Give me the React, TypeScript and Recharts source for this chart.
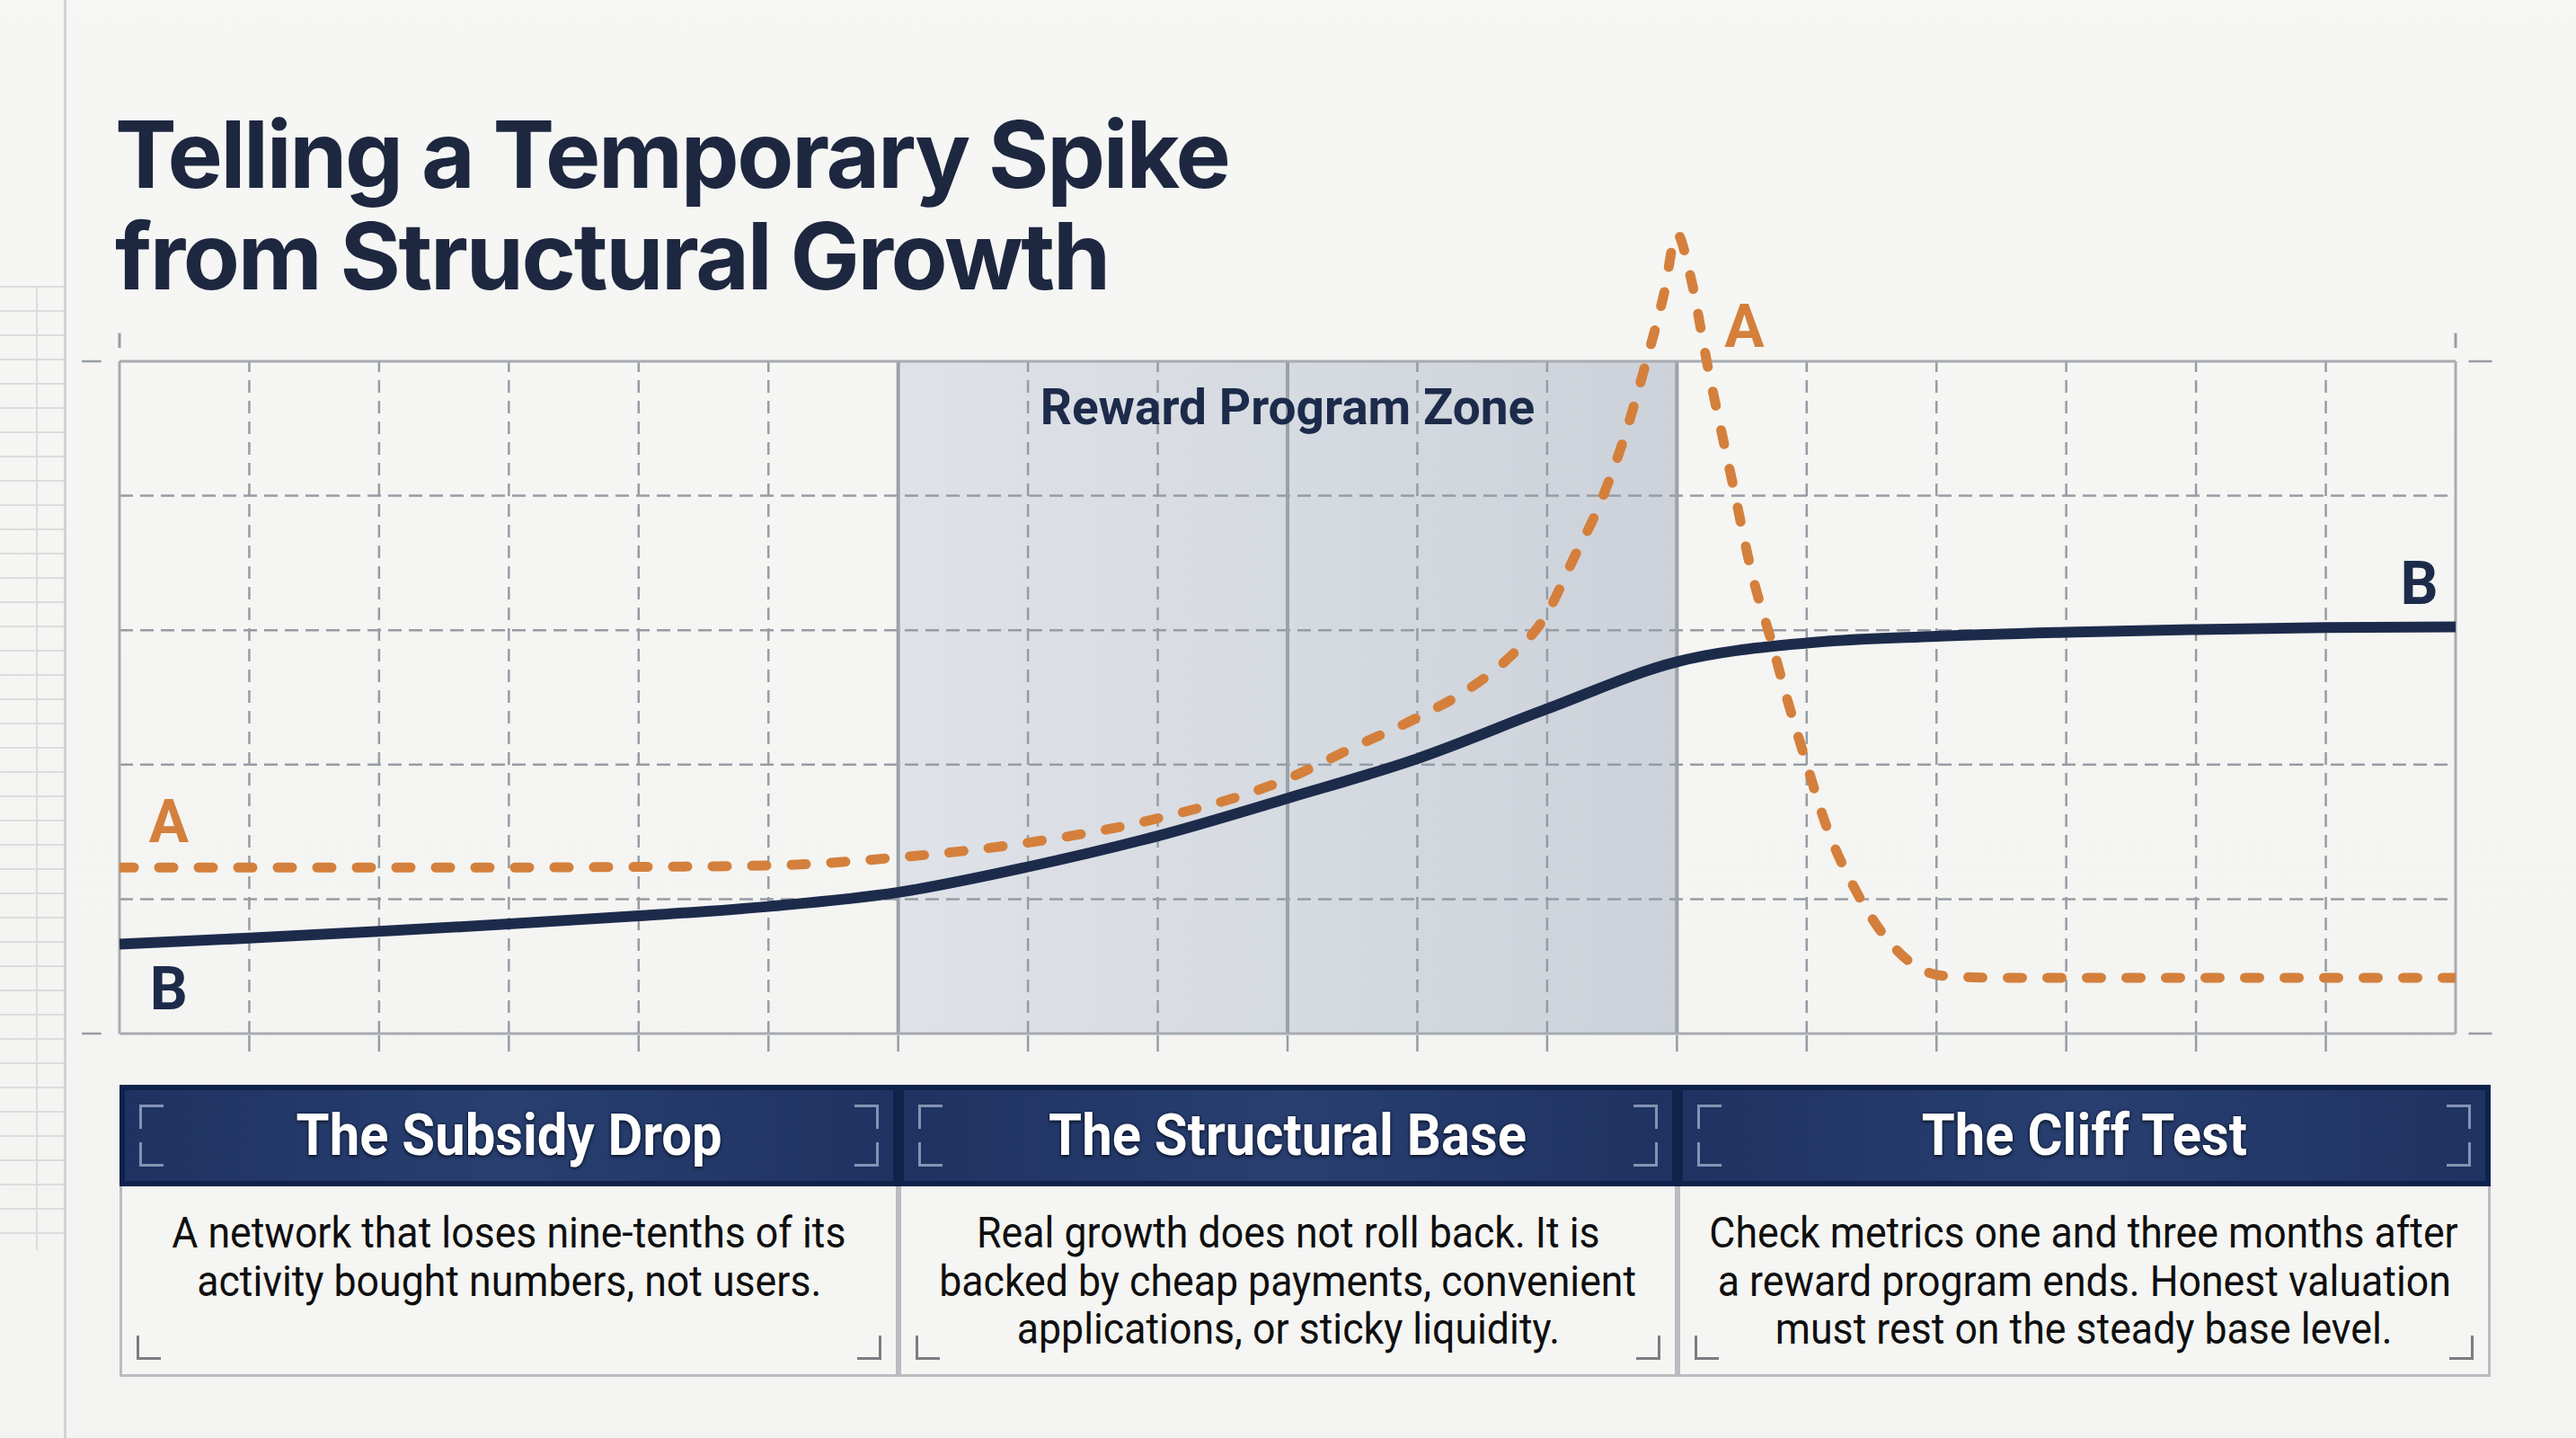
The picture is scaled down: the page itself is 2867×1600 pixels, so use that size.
import { LineChart, Line, XAxis, YAxis, ReferenceArea, ReferenceLine, ReferenceDot } from 'recharts';

// ── data ──
const xTicks = [1, 2, 3, 4, 5, 6, 7, 8, 9, 10, 11, 12, 13, 14, 15, 16, 17];
const gridLevels = [20, 40, 60, 80];
const zoneLines = [6, 9, 12];

// A: reward-driven spike (orange, dashed)
const spikeX = [0, 1, 2, 3, 4, 5, 6, 7, 8, 9, 9.5, 10, 10.4, 10.7, 11, 11.2, 11.4, 11.6, 11.75, 11.9, 12, 12.1, 12.24, 12.42, 12.59, 12.72, 12.84, 13, 13.14, 13.4, 13.68, 14.05, 14.5, 15, 16, 17, 18];
const spikeY = [24.7, 24.7, 24.7, 24.7, 24.8, 25, 26.2, 28.4, 32, 37.9, 42.5, 47, 51.3, 55.8, 62.5, 70.5, 78.5, 89, 99, 110, 119, 113, 99, 82.7, 67.5, 58.9, 50.4, 40.1, 31.5, 20.5, 12.7, 8.6, 8.3, 8.3, 8.3, 8.3, 8.3];

// B: structural base (navy, solid)
const baseX = [0, 1, 2, 3, 4, 5, 6, 7, 8, 9, 10, 11, 12, 13, 14, 15, 16, 17, 18];
const baseY = [13.3, 14.2, 15.2, 16.3, 17.5, 18.9, 21, 24.8, 29.4, 35, 40.9, 48.3, 55.3, 58.1, 59.1, 59.7, 60.1, 60.4, 60.5];

const zoneLabel = 'Reward Program Zone';
const panelTitles = ['The Subsidy Drop', 'The Structural Base', 'The Cliff Test'];
const panelLines = [
  ['A network that loses nine-tenths of its', 'activity bought numbers, not users.'],
  ['Real growth does not roll back. It is', 'backed by cheap payments, convenient', 'applications, or sticky liquidity.'],
  ['Check metrics one and three months after', 'a reward program ends. Honest valuation', 'must rest on the steady base level.'],
];

const spikeData = spikeX.map((x, i) => ({ x, a: spikeY[i] }));
const baseData = baseX.map((x, i) => ({ x, b: baseY[i] }));

const NAVY = '#1d2b4b';
const ORANGE = '#d4803c';
const GRID = '#979ca4';
const FRAME = '#a7abb1';

const panelLeft = [133, 1000, 1867];
const panelWidth = [867, 867, 905];

function Bracket({ pos, color }: { pos: string; color: string }) {
  const s: React.CSSProperties = { position: 'absolute', width: 24, height: 24, borderColor: color, borderStyle: 'solid', borderWidth: 0 };
  if (pos.includes('t')) { s.top = 16; s.borderTopWidth = 3; }
  if (pos.includes('b')) { s.bottom = 16; s.borderBottomWidth = 3; }
  if (pos.includes('l')) { s.left = 16; s.borderLeftWidth = 3; }
  if (pos.includes('r')) { s.right = 16; s.borderRightWidth = 3; }
  return <div style={s} />;
}

function Panel({ i }: { i: number }) {
  return (
    <>
      <div style={{ position: 'absolute', left: panelLeft[i], top: 1207, width: panelWidth[i], height: 113, boxSizing: 'border-box', background: '#10224a', padding: 6 }}>
        <div style={{ position: 'relative', width: '100%', height: '100%', background: 'linear-gradient(90deg, #1f3362 0%, #283f70 50%, #1f3362 100%)' }}>
          <Bracket pos="tl" color="#8393b3" />
          <Bracket pos="bl" color="#8393b3" />
          <Bracket pos="tr" color="#8393b3" />
          <Bracket pos="br" color="#8393b3" />
        </div>
        <div style={{ position: 'absolute', left: 0, top: 0, width: '100%', height: 113, lineHeight: '113px', textAlign: 'center', color: '#ffffff', fontFamily: 'Roboto, sans-serif', fontWeight: 700, fontSize: 65, textShadow: '0 0 3px rgba(5,15,40,0.9), 0 2px 4px rgba(0,0,0,0.55)' }}>
          <span style={{ display: 'inline-block', transform: 'scaleX(0.92)' }}>{panelTitles[i]}</span>
        </div>
      </div>
      <div style={{ position: 'absolute', left: panelLeft[i], top: 1320, width: panelWidth[i], height: 212, boxSizing: 'border-box', background: '#f5f5f3', border: '3px solid #b9bcc1', borderTop: 'none', paddingTop: 25 }}>
        <Bracket pos="bl" color="#7a7d82" />
        <Bracket pos="br" color="#7a7d82" />
        {panelLines[i].map((t) => (
          <div key={t} style={{ textAlign: 'center', fontFamily: 'Roboto, sans-serif', fontSize: 48, lineHeight: '53.5px', color: '#0f0f0f', whiteSpace: 'nowrap' }}>
            <span style={{ display: 'inline-block', transform: 'scaleX(0.93)' }}>{t}</span>
          </div>
        ))}
      </div>
    </>
  );
}

export default function App() {
  return (
    <div style={{ position: 'absolute', left: 0, top: 0, width: 2867, height: 1600, overflow: 'hidden', background: 'linear-gradient(180deg, #f6f6f4 0%, #f3f3f1 100%)' }}>
      {/* faint sheet grid on the far left */}
      <div style={{ position: 'absolute', left: 0, top: 318, width: 72, height: 1073, backgroundImage: 'repeating-linear-gradient(180deg, #dcdcdc 0px, #dcdcdc 2px, transparent 2px, transparent 27px)' }} />
      <div style={{ position: 'absolute', left: 40, top: 318, width: 2, height: 1073, background: '#dcdcdc' }} />
      <div style={{ position: 'absolute', left: 71, top: 0, width: 3, height: 1600, background: '#d2d2d2' }} />

      <div style={{ position: 'absolute', left: 128, top: 116, fontFamily: 'Inter, Roboto, sans-serif', fontWeight: 700, fontSize: 103, lineHeight: '112.7px', letterSpacing: -2.3, color: '#1e2740', whiteSpace: 'nowrap' }}>
        <div>Telling a Temporary Spike</div>
        <div>from Structural Growth</div>
      </div>

      <div style={{ position: 'absolute', left: 0, top: 0 }}>
        <LineChart width={2867} height={1250} margin={{ top: 215, right: 134, bottom: 70, left: 133 }}>
          <defs>
            <linearGradient id="zoneFill" x1="0" y1="0" x2="1" y2="0">
              <stop offset="0%" stopColor="#dfe2e8" />
              <stop offset="100%" stopColor="#cdd2da" />
            </linearGradient>
          </defs>
          <XAxis
            dataKey="x"
            type="number"
            domain={[0, 18]}
            ticks={xTicks}
            interval={0}
            allowDataOverflow
            axisLine={false}
            tickSize={28}
            tickLine={{ stroke: GRID, strokeWidth: 2.5, strokeDasharray: '0 8 18 100' }}
            tick={() => <g />}
            height={30}
          />
          <YAxis hide type="number" domain={[0, 125]} allowDataOverflow />

          <ReferenceArea
            x1={6}
            x2={12}
            y1={0}
            y2={100}
            fill="url(#zoneFill)"
            fillOpacity={1}
            stroke="none"
            zIndex={-200}
            label={{ value: zoneLabel, position: 'insideTop', offset: 31, fill: NAVY, fontSize: 55, fontWeight: 700, fontFamily: 'Roboto, sans-serif' }}
          />

          {gridLevels.map((v) => (
            <ReferenceLine key={`h${v}`} y={v} stroke={GRID} strokeWidth={2.5} strokeDasharray="15 8" zIndex={-100} />
          ))}
          {xTicks.filter((x) => !zoneLines.includes(x)).map((x) => (
            <ReferenceLine key={`v${x}`} segment={[{ x, y: 0 }, { x, y: 100 }]} stroke={GRID} strokeWidth={2.5} strokeDasharray="14 9" zIndex={-100} />
          ))}
          {zoneLines.map((x) => (
            <ReferenceLine key={`z${x}`} segment={[{ x, y: 0 }, { x, y: 100 }]} stroke="#9ca1a9" strokeWidth={4} zIndex={-100} />
          ))}

          {/* frame */}
          <ReferenceLine y={0} stroke={FRAME} strokeWidth={3} zIndex={-100} />
          <ReferenceLine y={100} stroke={FRAME} strokeWidth={3} zIndex={-100} />
          <ReferenceLine segment={[{ x: 0, y: 0 }, { x: 0, y: 100 }]} stroke={FRAME} strokeWidth={3} zIndex={-100} />
          <ReferenceLine segment={[{ x: 18, y: 0 }, { x: 18, y: 100 }]} stroke={FRAME} strokeWidth={3} zIndex={-100} />

          {/* crop marks */}
          <ReferenceLine segment={[{ x: 0, y: 102 }, { x: 0, y: 104.2 }]} stroke={GRID} strokeWidth={3} ifOverflow="visible" />
          <ReferenceLine segment={[{ x: 18, y: 102 }, { x: 18, y: 104.2 }]} stroke={GRID} strokeWidth={3} ifOverflow="visible" />
          <ReferenceLine segment={[{ x: -0.29, y: 100 }, { x: -0.14, y: 100 }]} stroke={GRID} strokeWidth={2.5} ifOverflow="visible" />
          <ReferenceLine segment={[{ x: -0.29, y: 0 }, { x: -0.14, y: 0 }]} stroke={GRID} strokeWidth={2.5} ifOverflow="visible" />
          <ReferenceLine segment={[{ x: 18.1, y: 100 }, { x: 18.28, y: 100 }]} stroke={GRID} strokeWidth={2.5} ifOverflow="visible" />
          <ReferenceLine segment={[{ x: 18.1, y: 0 }, { x: 18.28, y: 0 }]} stroke={GRID} strokeWidth={2.5} ifOverflow="visible" />

          <Line data={baseData} dataKey="b" type="monotone" stroke={NAVY} strokeWidth={12} dot={false} activeDot={false} isAnimationActive={false} />
          <Line data={spikeData} dataKey="a" type="monotone" stroke={ORANGE} strokeWidth={11} strokeDasharray="16 28" strokeLinecap="round" dot={false} activeDot={false} isAnimationActive={false} />

          <ReferenceDot x={0.38} y={31.6} r={0} label={{ value: 'A', position: 'center', fill: ORANGE, fontSize: 66, fontWeight: 700, fontFamily: 'Roboto, sans-serif' }} />
          <ReferenceDot x={12.52} y={105.3} r={0} label={{ value: 'A', position: 'center', fill: ORANGE, fontSize: 66, fontWeight: 700, fontFamily: 'Roboto, sans-serif' }} />
          <ReferenceDot x={0.38} y={6.8} r={0} label={{ value: 'B', position: 'center', fill: NAVY, fontSize: 66, fontWeight: 700, fontFamily: 'Roboto, sans-serif' }} />
          <ReferenceDot x={17.72} y={67} r={0} label={{ value: 'B', position: 'center', fill: NAVY, fontSize: 66, fontWeight: 700, fontFamily: 'Roboto, sans-serif' }} />
        </LineChart>
      </div>

      {panelTitles.map((_, i) => (
        <Panel key={i} i={i} />
      ))}
    </div>
  );
}
